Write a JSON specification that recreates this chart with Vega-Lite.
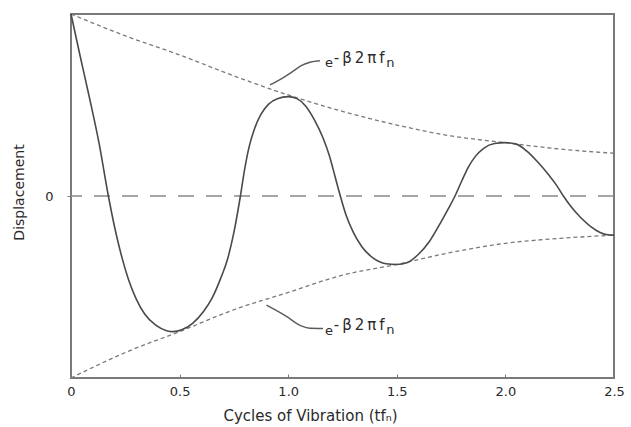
{
  "$schema": "https://vega.github.io/schema/vega-lite/v6.json",
  "autosize": "none",
  "width": 543,
  "height": 364,
  "padding": {"left": 71, "top": 14, "right": 17, "bottom": 49},
  "background": "white",
  "config": {
    "font": "DejaVu Sans",
    "view": {"stroke": "#7a7a7a", "strokeWidth": 2},
    "axis": {"grid": false, "labelColor": "#2a2a2a", "titleColor": "#2a2a2a", "labelFont": "DejaVu Sans", "titleFont": "DejaVu Sans", "titleFontWeight": "normal", "domainColor": "#7a7a7a", "tickColor": "#7a7a7a"}
  },
  "datasets": {
    "zero": [{"v": 0}],
    "response": [
      {"t": 0.0, "v": 1.0},
      {"t": 0.04, "v": 0.78},
      {"t": 0.085, "v": 0.54},
      {"t": 0.13, "v": 0.285},
      {"t": 0.172, "v": 0.0},
      {"t": 0.19, "v": -0.11},
      {"t": 0.21, "v": -0.22},
      {"t": 0.235, "v": -0.34},
      {"t": 0.265, "v": -0.46},
      {"t": 0.3, "v": -0.565},
      {"t": 0.34, "v": -0.65},
      {"t": 0.39, "v": -0.71},
      {"t": 0.44, "v": -0.74},
      {"t": 0.471, "v": -0.745},
      {"t": 0.51, "v": -0.735},
      {"t": 0.56, "v": -0.7},
      {"t": 0.61, "v": -0.635},
      {"t": 0.65, "v": -0.56},
      {"t": 0.69, "v": -0.45},
      {"t": 0.72, "v": -0.35},
      {"t": 0.75, "v": -0.2},
      {"t": 0.78, "v": 0.0},
      {"t": 0.8, "v": 0.15},
      {"t": 0.82, "v": 0.27},
      {"t": 0.845, "v": 0.37},
      {"t": 0.875, "v": 0.45},
      {"t": 0.91, "v": 0.505},
      {"t": 0.95, "v": 0.535},
      {"t": 1.0, "v": 0.546},
      {"t": 1.04, "v": 0.535},
      {"t": 1.08, "v": 0.495},
      {"t": 1.12, "v": 0.42},
      {"t": 1.16, "v": 0.32},
      {"t": 1.19, "v": 0.22},
      {"t": 1.215, "v": 0.11},
      {"t": 1.24, "v": 0.0},
      {"t": 1.265, "v": -0.1},
      {"t": 1.3, "v": -0.2},
      {"t": 1.34, "v": -0.28},
      {"t": 1.39, "v": -0.34},
      {"t": 1.45, "v": -0.372},
      {"t": 1.5, "v": -0.376},
      {"t": 1.55, "v": -0.365},
      {"t": 1.6, "v": -0.32},
      {"t": 1.65, "v": -0.25},
      {"t": 1.7, "v": -0.15},
      {"t": 1.735, "v": -0.075},
      {"t": 1.768, "v": 0.0},
      {"t": 1.8, "v": 0.085},
      {"t": 1.83, "v": 0.16},
      {"t": 1.86, "v": 0.215},
      {"t": 1.9, "v": 0.262},
      {"t": 1.95, "v": 0.288},
      {"t": 2.0, "v": 0.293},
      {"t": 2.05, "v": 0.285},
      {"t": 2.1, "v": 0.245},
      {"t": 2.15, "v": 0.185},
      {"t": 2.2, "v": 0.115},
      {"t": 2.235, "v": 0.06},
      {"t": 2.267, "v": 0.0},
      {"t": 2.3, "v": -0.055},
      {"t": 2.343, "v": -0.114},
      {"t": 2.39, "v": -0.165},
      {"t": 2.436, "v": -0.2},
      {"t": 2.47, "v": -0.213},
      {"t": 2.5, "v": -0.215}
    ],
    "envelope": [
      {"t": 0.0, "v": 1.0, "side": "upper"},
      {"t": 0.25, "v": 0.88, "side": "upper"},
      {"t": 0.5, "v": 0.775, "side": "upper"},
      {"t": 0.75, "v": 0.66, "side": "upper"},
      {"t": 1.0, "v": 0.555, "side": "upper"},
      {"t": 1.25, "v": 0.465, "side": "upper"},
      {"t": 1.5, "v": 0.39, "side": "upper"},
      {"t": 1.75, "v": 0.33, "side": "upper"},
      {"t": 2.0, "v": 0.293, "side": "upper"},
      {"t": 2.25, "v": 0.258, "side": "upper"},
      {"t": 2.5, "v": 0.235, "side": "upper"},
      {"t": 0.0, "v": -1.0, "side": "lower"},
      {"t": 0.25, "v": -0.86, "side": "lower"},
      {"t": 0.5, "v": -0.745, "side": "lower"},
      {"t": 0.75, "v": -0.625, "side": "lower"},
      {"t": 1.0, "v": -0.53, "side": "lower"},
      {"t": 1.25, "v": -0.435, "side": "lower"},
      {"t": 1.5, "v": -0.376, "side": "lower"},
      {"t": 1.75, "v": -0.31, "side": "lower"},
      {"t": 2.0, "v": -0.26, "side": "lower"},
      {"t": 2.25, "v": -0.233, "side": "lower"},
      {"t": 2.5, "v": -0.215, "side": "lower"}
    ],
    "leaders": [
      {"t": 0.916, "v": 0.61, "which": "upper"},
      {"t": 0.97, "v": 0.645, "which": "upper"},
      {"t": 1.01, "v": 0.675, "which": "upper"},
      {"t": 1.06, "v": 0.716, "which": "upper"},
      {"t": 1.1, "v": 0.735, "which": "upper"},
      {"t": 1.146, "v": 0.743, "which": "upper"},
      {"t": 0.9, "v": -0.6, "which": "lower"},
      {"t": 0.99, "v": -0.66, "which": "lower"},
      {"t": 1.06, "v": -0.714, "which": "lower"},
      {"t": 1.1, "v": -0.727, "which": "lower"},
      {"t": 1.16, "v": -0.728, "which": "lower"}
    ],
    "labels": [
      {"t": 1.169, "v": 0.709, "part": "base", "text": "e"},
      {"t": 1.21, "v": 0.731, "part": "sup", "text": "-\u2009β\u20092\u2009π\u2009f"},
      {"t": 1.452, "v": 0.709, "part": "sub", "text": "n"},
      {"t": 1.169, "v": -0.764, "part": "base", "text": "e"},
      {"t": 1.21, "v": -0.736, "part": "sup", "text": "-\u2009β\u20092\u2009π\u2009f"},
      {"t": 1.452, "v": -0.758, "part": "sub", "text": "n"}
    ]
  },
  "encoding": {
    "x": {
      "field": "t", "type": "quantitative",
      "scale": {"domain": [0, 2.5], "nice": false, "zero": false},
      "axis": {
        "values": [0, 0.5, 1, 1.5, 2, 2.5],
        "labelExpr": "datum.value == 0 ? '0' : format(datum.value, '.1f')",
        "labelFontSize": 13, "labelFlush": false,
        "tickSize": -4, "labelPadding": 11,
        "title": "Cycles of Vibration (tfₙ)",
        "titleFontSize": 15, "titleX": 239, "titleY": 37, "titleBaseline": "middle", "titleAlign": "center"
      }
    },
    "y": {
      "field": "v", "type": "quantitative",
      "scale": {"domain": [-1, 1], "nice": false},
      "axis": {
        "values": [0], "labelFontSize": 13, "tickSize": 4, "labelPadding": 14, "domain": false,
        "title": "Displacement", "titleFontSize": 14, "titleX": -52, "titleY": 178, "titleAngle": -90, "titleBaseline": "middle", "titleAlign": "center"
      }
    }
  },
  "layer": [
    {
      "data": {"name": "zero"},
      "mark": {"type": "rule", "color": "#8a8a8a", "strokeWidth": 1.6, "strokeDash": [16, 12]},
      "encoding": {"y": {"field": "v", "type": "quantitative"}, "x": null}
    },
    {
      "data": {"name": "envelope"},
      "mark": {"type": "line", "interpolate": "monotone", "color": "#7a7a7a", "strokeWidth": 1.3, "strokeDash": [4, 3]},
      "encoding": {"detail": {"field": "side"}}
    },
    {
      "data": {"name": "response"},
      "mark": {"type": "line", "interpolate": "monotone", "color": "#4a4a4a", "strokeWidth": 1.6},
      "encoding": {}
    },
    {
      "data": {"name": "leaders"},
      "mark": {"type": "line", "interpolate": "monotone", "color": "#5a5a5a", "strokeWidth": 1.4},
      "encoding": {"detail": {"field": "which"}}
    },
    {
      "data": {"name": "labels"},
      "transform": [{"filter": "datum.part == 'base'"}],
      "mark": {"type": "text", "align": "left", "baseline": "alphabetic", "fontSize": 13, "color": "#2a2a2a"},
      "encoding": {"text": {"field": "text"}}
    },
    {
      "data": {"name": "labels"},
      "transform": [{"filter": "datum.part == 'sup'"}],
      "mark": {"type": "text", "align": "left", "baseline": "alphabetic", "fontSize": 15, "color": "#2a2a2a"},
      "encoding": {"text": {"field": "text"}}
    },
    {
      "data": {"name": "labels"},
      "transform": [{"filter": "datum.part == 'sub'"}],
      "mark": {"type": "text", "align": "left", "baseline": "alphabetic", "fontSize": 13, "color": "#2a2a2a"},
      "encoding": {"text": {"field": "text"}}
    }
  ]
}
